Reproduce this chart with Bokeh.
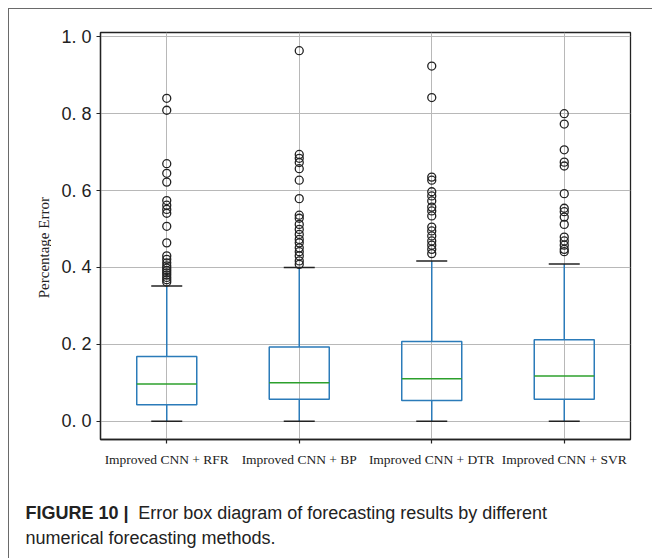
from bokeh.plotting import figure
from bokeh.models import ColumnDataSource, Range1d, FactorRange, FixedTicker
from bokeh.layouts import row, column
from bokeh.transform import dodge
from bokeh.core.properties import value
from bokeh.embed import file_html
from bokeh.resources import INLINE
import math

# ---------------- data ----------------
categories = ["Improved CNN + RFR", "Improved CNN + BP",
              "Improved CNN + DTR", "Improved CNN + SVR"]
q1 = [0.043, 0.057, 0.054, 0.057]
median = [0.0965, 0.100, 0.1105, 0.1175]
q3 = [0.168, 0.193, 0.207, 0.212]
whisker_low = [0.0, 0.0, 0.0, 0.0]
whisker_high = [0.352, 0.400, 0.417, 0.409]

outliers_rfr = [0.840, 0.809, 0.670, 0.645, 0.622, 0.574, 0.562, 0.551, 0.541,
                0.507, 0.464, 0.430, 0.421, 0.412, 0.404, 0.398, 0.392, 0.386,
                0.380, 0.374, 0.368, 0.362]
outliers_bp = [0.964, 0.694, 0.684, 0.673, 0.657, 0.627, 0.579, 0.536, 0.528,
               0.512, 0.499, 0.486, 0.473, 0.464, 0.451, 0.441, 0.430, 0.417,
               0.408]
outliers_dtr = [0.924, 0.842, 0.635, 0.627, 0.597, 0.586, 0.573, 0.557, 0.547,
                0.534, 0.505, 0.495, 0.482, 0.469, 0.458, 0.447, 0.436]
outliers_svr = [0.800, 0.773, 0.706, 0.674, 0.664, 0.592, 0.554, 0.545, 0.531,
                0.512, 0.479, 0.469, 0.458, 0.447, 0.441]

yticks = [0.0, 0.2, 0.4, 0.6, 0.8, 1.0]
ytick_labels = ["0. 0", "0. 2", "0. 4", "0. 6", "0. 8", "1. 0"]

y_label = "Percentage Error"
caption_bold = "FIGURE 10 |"
caption_line1 = "Error box diagram of forecasting results by different"
caption_line2 = "numerical forecasting methods."

# ---------------- styling / layout ----------------
BOX_BLUE = "#2b7bb9"
MED_GREEN = "#2ca02c"
DARK = "#222222"
GRID = "#b8b8b8"
TOTAL_W, TOTAL_H = 643, 549
LEFT_W = 42
TOP_H = 471
CAP_H = TOTAL_H - TOP_H


def blank_fig(w, h, xr, yr):
    f = figure(width=w, height=h, x_range=xr, y_range=yr,
               x_axis_location=None, y_axis_location=None,
               min_border=0, output_backend="svg", toolbar_location=None)
    f.grid.visible = False
    f.outline_line_color = None
    f.background_fill_color = "white"
    f.border_fill_color = "white"
    return f


box_src = ColumnDataSource(dict(cat=categories, q1=q1, med=median, q3=q3,
                                lo=whisker_low, hi=whisker_high))

out_cat, out_val = [], []
for c, vals in zip(categories, [outliers_rfr, outliers_bp, outliers_dtr, outliers_svr]):
    out_cat += [c] * len(vals)
    out_val += vals
out_src = ColumnDataSource(dict(cat=out_cat, val=out_val))

p = figure(x_range=FactorRange(factors=categories),
           y_range=Range1d(-0.0477, 1.0113),
           width=TOTAL_W - LEFT_W, height=TOP_H,
           min_border_left=49, min_border_right=22,
           min_border_top=23, min_border_bottom=41,
           output_backend="svg", toolbar_location=None)

p.background_fill_color = "white"
p.border_fill_color = "white"
p.outline_line_color = DARK
p.outline_line_width = 1.3

p.xgrid.grid_line_color = GRID
p.ygrid.grid_line_color = GRID
p.xgrid.grid_line_width = 1
p.ygrid.grid_line_width = 1

p.yaxis.ticker = FixedTicker(ticks=yticks)
p.yaxis.major_label_overrides = {t: l for t, l in zip(yticks, ytick_labels)}
for ax in (p.xaxis[0], p.yaxis[0]):
    ax.axis_line_color = DARK
    ax.axis_line_width = 1.3
    ax.major_tick_line_color = DARK
    ax.major_tick_line_width = 1.2
    ax.major_tick_out = 4
    ax.major_tick_in = 0
    ax.minor_tick_out = 0
    ax.minor_tick_in = 0
    ax.major_label_text_color = DARK
p.yaxis.major_label_text_font = "Liberation Sans"
p.yaxis.major_label_text_font_size = "18px"
p.yaxis.major_label_standoff = 5
p.xaxis.major_label_text_font = "Liberation Serif"
p.xaxis.major_label_text_font_size = "13.5px"
p.xaxis.major_label_standoff = 8

# whiskers
p.segment(x0="cat", x1="cat", y0="q3", y1="hi", source=box_src,
          line_color=BOX_BLUE, line_width=1.5)
p.segment(x0="cat", x1="cat", y0="lo", y1="q1", source=box_src,
          line_color=BOX_BLUE, line_width=1.5)
# boxes
p.vbar(x="cat", width=0.453, bottom="q1", top="q3", source=box_src,
       fill_color=None, line_color=BOX_BLUE, line_width=1.5)
# medians
p.segment(x0=dodge("cat", -0.2265, range=p.x_range), x1=dodge("cat", 0.2265, range=p.x_range),
          y0="med", y1="med", source=box_src, line_color=MED_GREEN, line_width=1.5)
# caps
for col in ("hi", "lo"):
    p.segment(x0=dodge("cat", -0.117, range=p.x_range), x1=dodge("cat", 0.117, range=p.x_range),
              y0=col, y1=col, source=box_src, line_color=DARK, line_width=1.5)
# fliers
p.scatter(x="cat", y="val", source=out_src, marker="circle", size=8,
          fill_color=None, line_color=DARK, line_width=1.3)

# ---- left strip carrying the rotated y-axis title (pixel coordinates, y down) ----
left = blank_fig(LEFT_W, TOP_H, Range1d(0, LEFT_W), Range1d(TOP_H, 0))
left.text(x=[34], y=[249], text=[y_label], angle=math.pi / 2,
          text_align="center", text_baseline="middle",
          text_font=value("Liberation Serif"), text_font_size="15px",
          text_color=DARK)

# ---- caption strip (pixel coordinates, y down) ----
cap = blank_fig(TOTAL_W, CAP_H, Range1d(0, TOTAL_W), Range1d(CAP_H, 0))
cap_src = ColumnDataSource(dict(
    x=[16, 128.7, 16],
    y=[32.3, 32.3, 57.3],
    text=[caption_bold, caption_line1, caption_line2],
    style=["bold", "normal", "normal"],
))
cap.text(x="x", y="y", text="text", source=cap_src, text_font_style="style",
         text_font=value("Liberation Sans"), text_font_size="18px",
         text_color=DARK, text_align="left", text_baseline="alphabetic")

layout = column(row(left, p), cap)
layout.styles = {"margin-top": "8px", "margin-left": "8px",
                 "border-top": "1px solid #6a6a6a", "border-left": "1px solid #6a6a6a"}

open("out.html", "w").write(file_html(layout, INLINE))
